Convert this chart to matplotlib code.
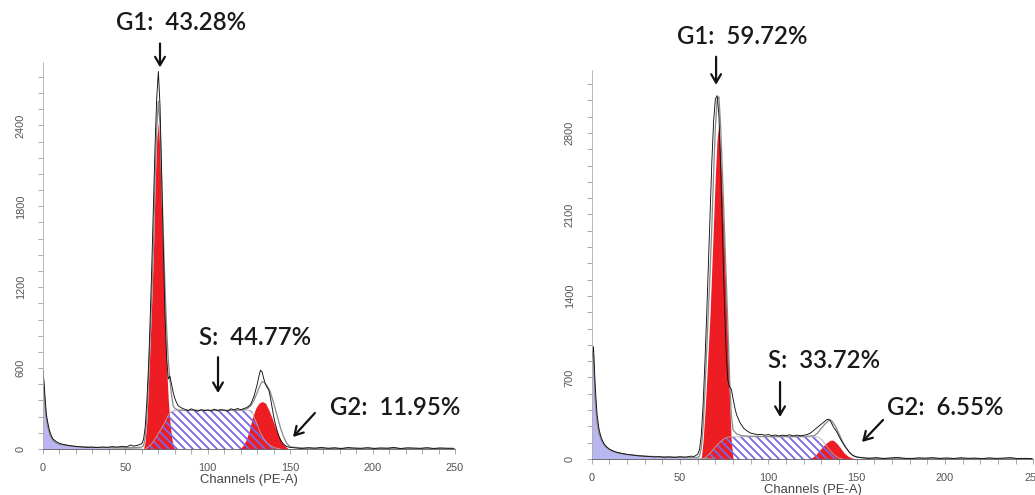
import matplotlib
matplotlib.use("Agg")
import matplotlib.pyplot as plt
from matplotlib.ticker import MultipleLocator

# ---- left panel (control) ----
L_DATA_CH = [0, 1, 2, 3, 4, 5, 6, 8, 10, 12, 15, 18, 21, 24, 27, 30, 33, 36, 39, 42, 45, 48, 51, 53, 55, 57,
             59, 60, 61, 62, 63, 64, 65, 66, 67, 68, 69, 70, 71, 72, 73, 74, 75, 76, 77, 78, 79, 80, 81, 82,
             84, 86, 88, 90, 92, 94, 96, 98, 100, 102, 104, 106, 108, 110, 112, 114, 116, 118, 120, 122, 124,
             126, 128, 130, 131, 132, 133, 134, 135, 136, 137, 138, 139, 140, 141, 142, 143, 144, 145, 146, 147,
             148, 150, 153, 157, 161, 165, 169, 173, 177, 181, 185, 189, 193, 197, 201, 205, 209, 213, 217, 221,
             225, 229, 233, 237, 241, 245, 249]
L_DATA = [585, 430, 260, 190, 135, 100, 75, 55, 42, 35, 28, 22, 18, 15, 12, 14, 10, 15, 12, 18, 14, 20, 16, 30, 22, 26,
          35, 40, 70, 160, 350, 600, 950, 1350, 1800, 2250, 2600, 2800, 2550, 2050, 1500, 1000, 680, 520, 540, 480, 420, 375, 345, 320,
          305, 295, 285, 298, 288, 280, 292, 285, 290, 282, 295, 285, 292, 288, 280, 298, 290, 300, 292, 300, 310,
          330, 390, 480, 540, 585, 570, 520, 480, 455, 440, 380, 310, 240, 185, 140, 100, 70, 50, 35, 25,
          18, 12, 8, 4, 10, 6, 12, 5, 9, 3, 11, 7, 5, 10, 4, 8, 6, 12, 3, 9, 7,
          5, 10, 4, 8, 6, 5]
L_MODEL_CH = [0, 1, 2, 3, 4, 6, 8, 10, 15, 20, 30, 40, 50, 58, 60, 61, 62, 63, 64, 65, 66, 67, 68, 69, 70, 71, 72, 73,
              74, 75, 76, 77, 78, 79, 80, 82, 85, 90, 100, 110, 120, 124, 126, 128, 130, 132, 133, 134, 136, 138,
              140, 142, 144, 146, 148, 150, 160, 250]
L_MODEL = [580, 360, 230, 160, 110, 65, 45, 35, 24, 18, 13, 11, 10, 12, 15, 25, 80, 230, 510, 810, 1140, 1500, 2010, 2380,
           2580, 2400, 1980, 1600, 1220, 900, 660, 510, 400, 320, 300, 290, 288, 287, 287, 287, 288, 300, 320, 360,
           420, 480, 500, 495, 470, 420, 340, 250, 160, 90, 40, 15, 5, 3]
L_DEBRIS_CH = [0, 1, 2, 3, 4, 5, 6, 8, 10, 13, 16, 20, 25, 30, 40, 50, 60]
L_DEBRIS = [580, 360, 230, 160, 110, 85, 65, 45, 35, 27, 22, 18, 14, 11, 8, 5, 0]
L_G1_CH = [61, 62, 63, 64, 65, 66, 67, 68, 69, 70, 71, 72, 73, 74, 75, 76, 77, 78, 79, 80]
L_G1 = [0, 60, 200, 480, 780, 1100, 1450, 1950, 2300, 2420, 2200, 1750, 1350, 950, 620, 370, 200, 90, 20, 0]
L_S_CH = [62, 64, 66, 68, 70, 72, 74, 76, 78, 80, 124, 126, 127, 128, 130, 132, 134, 136, 138, 140, 142, 144]
L_S = [0, 15, 40, 75, 115, 155, 200, 250, 278, 286, 288, 284, 270, 240, 180, 120, 75, 45, 25, 12, 5, 0]
L_G2_CH = [119, 121, 123, 125, 127, 129, 131, 133, 135, 137, 139, 141, 143, 145, 147, 149]
L_G2 = [0, 20, 60, 130, 230, 300, 340, 352, 340, 290, 230, 160, 100, 50, 20, 0]

# ---- right panel (treated) ----
R_DATA_CH = [0, 1, 2, 3, 4, 5, 6, 7, 8, 10, 12, 14, 17, 20, 23, 26, 29, 32, 35, 38, 41, 44, 47, 50, 53, 56, 58,
             60, 61, 62, 63, 64, 65, 66, 67, 68, 69, 70, 71, 72, 73, 74, 75, 76, 77, 78, 79, 80, 81, 82, 84,
             86, 88, 90, 92, 94, 96, 98, 100, 102, 104, 106, 108, 110, 112, 114, 116, 118, 120, 122, 124, 126,
             128, 130, 132, 133, 134, 135, 136, 137, 138, 139, 140, 141, 142, 143, 144, 145, 146, 147, 148, 150,
             153, 157, 161, 165, 169, 173, 177, 181, 185, 189, 193, 197, 201, 205, 209, 213, 217, 221, 225,
             229, 233, 237, 241, 245, 249]
R_DATA = [850, 965, 620, 390, 270, 200, 160, 130, 110, 85, 68, 58, 48, 40, 34, 28, 25, 22, 18, 20, 15, 18, 14, 20, 16, 24, 22,
          40, 80, 200, 450, 800, 1200, 1650, 2100, 2550, 2900, 3090, 3120, 2950, 2500, 1950, 1400, 950, 680, 620, 600, 520, 440, 380, 310,
          265, 240, 222, 215, 208, 212, 204, 210, 200, 206, 198, 205, 200, 208, 198, 205, 200, 204, 210, 225, 250,
          275, 300, 325, 338, 342, 330, 300, 270, 250, 225, 195, 165, 140, 115, 95, 75, 55, 40, 28, 18,
          10, 5, 12, 4, 9, 14, 6, 3, 10, 7, 12, 5, 9, 4, 11, 6, 8, 3, 10,
          5, 8, 12, 4, 6, 3]
R_MODEL_CH = [0, 1, 2, 3, 4, 6, 8, 10, 15, 20, 30, 40, 50, 58, 60, 61, 62, 63, 64, 65, 66, 67, 68, 69, 70, 71, 72, 73,
              74, 75, 76, 77, 78, 79, 80, 82, 85, 90, 100, 110, 120, 126, 128, 130, 132, 134, 135, 136, 138, 140,
              142, 144, 146, 148, 150, 160, 250]
R_MODEL = [870, 900, 520, 320, 230, 150, 105, 82, 52, 38, 24, 18, 14, 12, 14, 25, 90, 260, 560, 900, 1250, 1600, 2000, 2450,
           2850, 3080, 3110, 2850, 2450, 2030, 1600, 1180, 720, 380, 250, 215, 200, 195, 193, 193, 193, 200, 225, 265,
           300, 330, 335, 325, 280, 215, 150, 95, 55, 30, 15, 5, 3]
R_DEBRIS_CH = [0, 1, 2, 3, 4, 5, 6, 8, 10, 13, 16, 20, 25, 30, 40, 50, 60, 70]
R_DEBRIS = [870, 880, 510, 310, 220, 170, 140, 100, 80, 62, 52, 38, 30, 24, 18, 13, 8, 0]
R_G1_CH = [62, 63, 64, 65, 66, 67, 68, 69, 70, 71, 72, 73, 74, 75, 76, 77, 78, 79, 80]
R_G1 = [0, 150, 380, 650, 950, 1250, 1650, 2050, 2450, 2750, 2884, 2600, 2250, 1850, 1420, 1000, 520, 150, 0]
R_S_CH = [63, 65, 67, 69, 71, 73, 75, 77, 78, 128, 130, 132, 134, 136, 138, 140, 142]
R_S = [0, 20, 50, 85, 120, 150, 175, 188, 190, 190, 170, 130, 90, 55, 25, 8, 0]
R_G2_CH = [123, 125, 127, 129, 131, 133, 135, 136, 137, 139, 141, 143, 145, 147, 149, 151]
R_G2 = [0, 15, 40, 77, 110, 140, 160, 163, 158, 130, 90, 50, 25, 10, 3, 0]

L_LABELS = ["G1:  43.28%", "S:  44.77%", "G2:  11.95%"]
R_LABELS = ["G1:  59.72%", "S:  33.72%", "G2:  6.55%"]

RED = "#ee1d23"
LAVENDER = "#bab6f2"
HATCH = "#7a66e6"
TICK_FONT = ["Liberation Sans Narrow", "Liberation Sans", "DejaVu Sans"]
ANN_FONT = ["Lato", "DejaVu Sans"]

plt.rcParams["hatch.linewidth"] = 1.8


def draw_panel(ax, data, model, debris, g1, s, g2, ylim, ystep, labels, spots):
    ax.fill_between(debris[0], debris[1], color=LAVENDER, lw=0)
    ax.plot(debris[0], debris[1], color="#9a9a9a", lw=0.8)
    ax.fill_between(g1[0], g1[1], color=RED, lw=0)
    ax.fill_between(g2[0], g2[1], color=RED, lw=0)
    ax.fill_between(s[0], s[1], facecolor="none", edgecolor=HATCH, hatch="\\\\\\", lw=0)
    ax.plot(s[0], s[1], color="#b0b0b0", lw=0.8)
    ax.plot(model[0], model[1], color="#8c8c8c", lw=1.3)
    ax.plot(data[0], data[1], color="#111111", lw=0.9)

    ax.set_xlim(0, 250)
    ax.set_ylim(*ylim)
    ax.xaxis.set_major_locator(MultipleLocator(50))
    ax.xaxis.set_minor_locator(MultipleLocator(10))
    ax.yaxis.set_major_locator(MultipleLocator(ystep))
    ax.yaxis.set_minor_locator(MultipleLocator(ystep / 5))
    for side in ("top", "right"):
        ax.spines[side].set_visible(False)
    ax.spines["bottom"].set_color("#555555")
    ax.spines["left"].set_color("#aaaaaa")
    ax.tick_params(which="both", direction="out", length=5, width=0.8, colors="#999999",
                   labelcolor="#555555", labelsize=11)
    ax.tick_params(axis="x", pad=9)
    ax.tick_params(axis="y", pad=12, labelrotation=90)
    for lab in ax.get_xticklabels() + ax.get_yticklabels():
        lab.set_family(TICK_FONT)
    for lab in ax.get_yticklabels():
        lab.set_va("center")
    ax.set_xlabel("Channels (PE-A)", fontsize=13, color="#444444", family=TICK_FONT, labelpad=1)

    for label, (tx, ty, ax0, ay0, ax1, ay1) in zip(labels, spots):
        ax.text(tx, ty, label, fontsize=24, fontweight="semibold", color="#1a1a1a", family=ANN_FONT,
                ha="center", va="center")
        ax.annotate("", xy=(ax1, ay1), xytext=(ax0, ay0), annotation_clip=False,
                    arrowprops=dict(arrowstyle="->,head_length=0.6,head_width=0.35", lw=2.2,
                                    color="#111111", mutation_scale=14, shrinkA=0, shrinkB=0))


fig = plt.figure(figsize=(1035 / 72, 495 / 72), dpi=72)
ax_l = fig.add_axes([43 / 1035, 46 / 495, 412 / 1035, 387 / 495])
ax_r = fig.add_axes([591.7 / 1035, 36 / 495, 441.7 / 1035, 389 / 495])

# text x, text y, arrow tail x, y, arrow head x, y (data coords)
l_spots = [(83.7, 3163, 71, 3007, 71, 2830),
           (128.6, 830, 106.2, 681, 106.2, 415),
           (213.6, 311, 165, 267, 151.7, 89)]
r_spots = [(85, 3625, 70.4, 3454, 70.4, 3213),
           (131.4, 850, 106.6, 661, 106.6, 361),
           (200, 438, 164.9, 335, 153, 146)]

draw_panel(ax_l, (L_DATA_CH, L_DATA), (L_MODEL_CH, L_MODEL), (L_DEBRIS_CH, L_DEBRIS),
           (L_G1_CH, L_G1), (L_S_CH, L_S), (L_G2_CH, L_G2), (0, 2870), 600, L_LABELS, l_spots)
draw_panel(ax_r, (R_DATA_CH, R_DATA), (R_MODEL_CH, R_MODEL), (R_DEBRIS_CH, R_DEBRIS),
           (R_G1_CH, R_G1), (R_S_CH, R_S), (R_G2_CH, R_G2), (0, 3340), 700, R_LABELS, r_spots)

fig.savefig("out.png", dpi=72)
